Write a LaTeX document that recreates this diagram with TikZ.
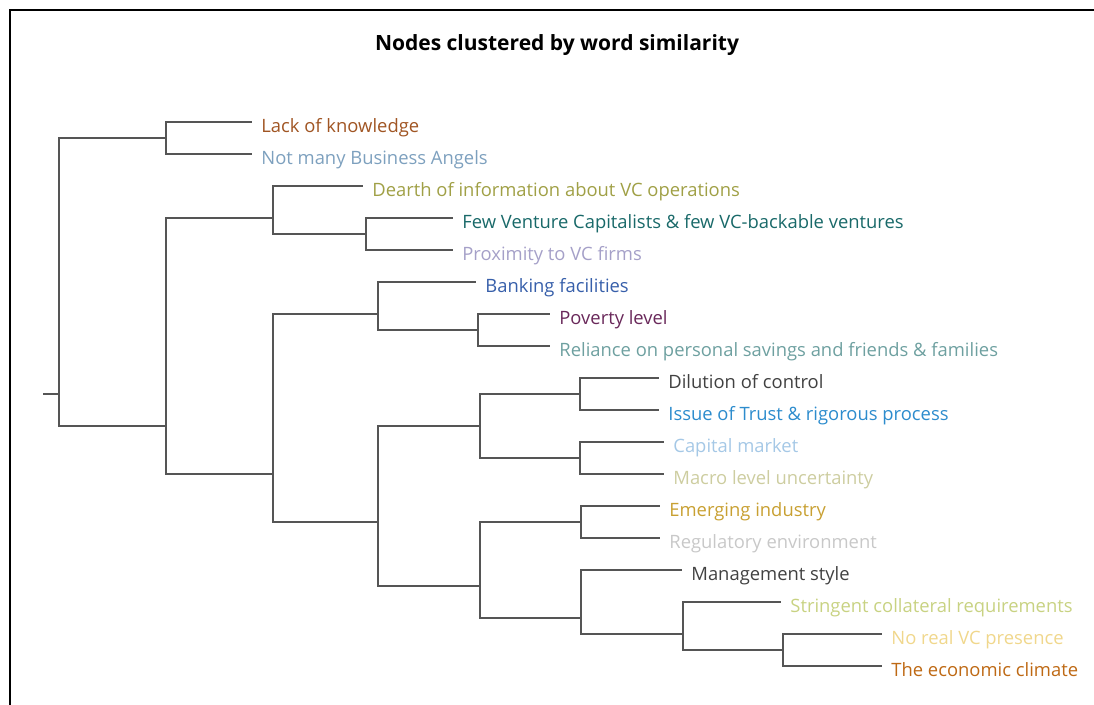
\documentclass[tikz,border=0pt]{standalone}
\usepackage{fontspec}
\setmainfont{Open Sans}
\usetikzlibrary{positioning}

\definecolor{linegray}{RGB}{85,85,85}
\definecolor{cLack}{RGB}{160,85,35}
\definecolor{cAngels}{RGB}{125,160,190}
\definecolor{cDearth}{RGB}{160,160,70}
\definecolor{cFewVC}{RGB}{25,105,105}
\definecolor{cProx}{RGB}{165,160,200}
\definecolor{cBank}{RGB}{55,95,170}
\definecolor{cPoverty}{RGB}{105,40,90}
\definecolor{cReliance}{RGB}{110,160,160}
\definecolor{cDilution}{RGB}{65,65,65}
\definecolor{cTrust}{RGB}{45,140,205}
\definecolor{cCapital}{RGB}{165,200,230}
\definecolor{cMacro}{RGB}{205,205,160}
\definecolor{cEmerging}{RGB}{200,160,50}
\definecolor{cRegul}{RGB}{200,200,200}
\definecolor{cMgmt}{RGB}{65,65,65}
\definecolor{cStringent}{RGB}{200,210,130}
\definecolor{cNoVC}{RGB}{240,215,140}
\definecolor{cClimate}{RGB}{190,105,20}

\begin{document}
\begin{tikzpicture}[x=0.5pt,y=-0.5pt]
\tikzset{
  branch/.style={draw=linegray, line width=1.1pt},
  leaf/.style={anchor=west, inner xsep=4.5pt, inner ysep=0pt,
    text height=11pt, text depth=0pt, font=\fontsize{9.2}{11}\selectfont}
}
\useasboundingbox (0,0) rectangle (1094,705);

% frame
\draw[line width=1pt] (10,705) -- (10,10) -- (1094,10);

\node[font=\bfseries\fontsize{10.5}{12}\selectfont] (title) at (557,45) {Nodes clustered by word similarity};

% leaves
\node[leaf, text=cLack]      (lk) at (252,122) {Lack of knowledge};
\node[leaf, text=cAngels]    (nb) at (252,154) {Not many Business Angels};
\node[leaf, text=cDearth]    (dv) at (363,186) {Dearth of information about VC operations};
\node[leaf, text=cFewVC]     (fv) at (453,218) {Few Venture Capitalists \& few VC-backable ventures};
\node[leaf, text=cProx]      (px) at (453,250) {Proximity to VC firms};
\node[leaf, text=cBank]      (bf) at (476,282) {Banking facilities};
\node[leaf, text=cPoverty]   (pl) at (550,314) {Poverty level};
\node[leaf, text=cReliance]  (rs) at (550,346) {Reliance on personal savings and friends \& families};
\node[leaf, text=cDilution]  (dc) at (659,378) {Dilution of control};
\node[leaf, text=cTrust]     (it) at (659,410) {Issue of Trust \& rigorous process};
\node[leaf, text=cCapital]   (cm) at (664,442) {Capital market};
\node[leaf, text=cMacro]     (mu) at (664,474) {Macro level uncertainty};
\node[leaf, text=cEmerging]  (ei) at (660,506) {Emerging industry};
\node[leaf, text=cRegul]     (re) at (660,538) {Regulatory environment};
\node[leaf, text=cMgmt]      (ms) at (682,570) {Management style};
\node[leaf, text=cStringent] (sc) at (781,602) {Stringent collateral requirements};
\node[leaf, text=cNoVC]      (nr) at (882,634) {No real VC presence};
\node[leaf, text=cClimate]   (ec) at (882,666) {The economic climate};

% joins
\coordinate (stub) at (43,394);
\coordinate (root) at (59,394);
\coordinate (A) at (166,138);
\coordinate (P) at (166,426);
\coordinate (C) at (273,218);
\coordinate (B) at (366,234);
\coordinate (O) at (273,474);
\coordinate (E) at (378,314);
\coordinate (D) at (478,330);
\coordinate (N) at (378,522);
\coordinate (H) at (480,426);
\coordinate (F) at (580,394);
\coordinate (G) at (580,458);
\coordinate (M) at (480,586);
\coordinate (I) at (581,522);
\coordinate (L) at (581,618);
\coordinate (K) at (683,634);
\coordinate (J) at (783,650);

\begin{scope}[branch]
\draw (stub) -- (root);
\draw (root) |- (A);
\draw (root) |- (P);
\draw (A) |- (lk.west);
\draw (A) |- (nb.west);
\draw (P) |- (C);
\draw (P) |- (O);
\draw (C) |- (dv.west);
\draw (C) |- (B);
\draw (B) |- (fv.west);
\draw (B) |- (px.west);
\draw (O) |- (E);
\draw (O) |- (N);
\draw (E) |- (bf.west);
\draw (E) |- (D);
\draw (D) |- (pl.west);
\draw (D) |- (rs.west);
\draw (N) |- (H);
\draw (N) |- (M);
\draw (H) |- (F);
\draw (H) |- (G);
\draw (F) |- (dc.west);
\draw (F) |- (it.west);
\draw (G) |- (cm.west);
\draw (G) |- (mu.west);
\draw (M) |- (I);
\draw (M) |- (L);
\draw (I) |- (ei.west);
\draw (I) |- (re.west);
\draw (L) |- (ms.west);
\draw (L) |- (K);
\draw (K) |- (sc.west);
\draw (K) |- (J);
\draw (J) |- (nr.west);
\draw (J) |- (ec.west);
\end{scope}
\end{tikzpicture}
\end{document}
